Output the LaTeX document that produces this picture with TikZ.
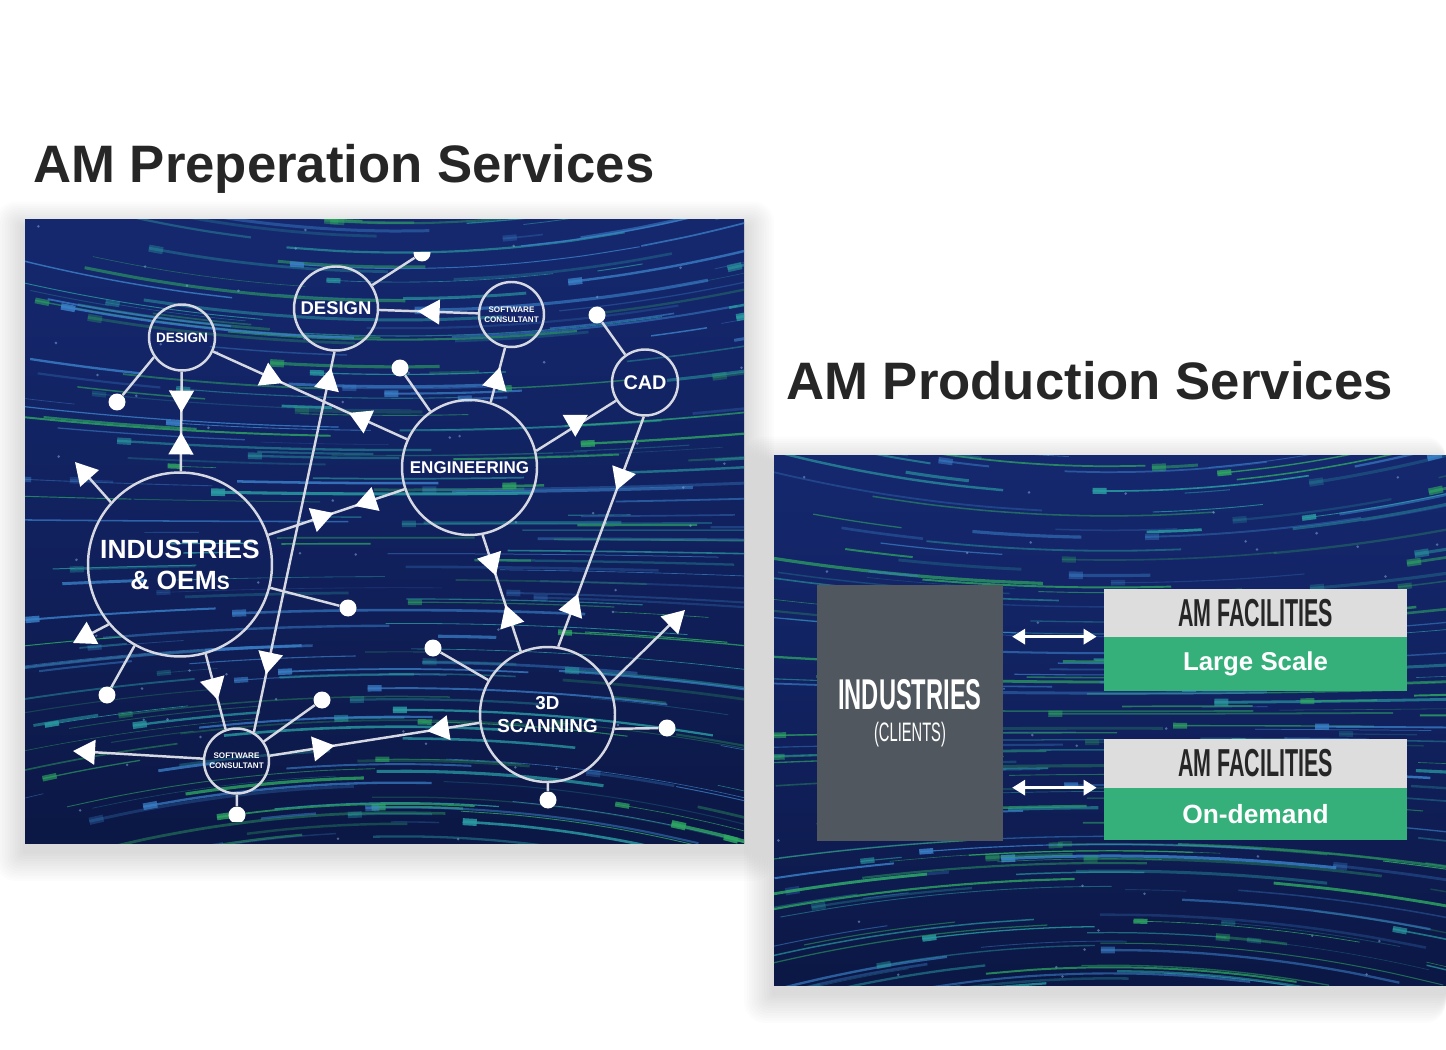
\documentclass[tikz,border=0pt]{standalone}
\usepackage{fontspec}
\setmainfont{Liberation Sans}
\newfontfamily\condfont[FakeStretch=0.55]{Liberation Sans}
\usetikzlibrary{arrows.meta, decorations.markings}
\definecolor{ink}{HTML}{262626}
\definecolor{navytop}{HTML}{15286E}
\definecolor{navymid}{HTML}{11215E}
\definecolor{navydeep}{HTML}{0B1744}
\definecolor{ring}{HTML}{D6D9E2}
\definecolor{st0}{HTML}{3A80C8}
\definecolor{st1}{HTML}{2A9CA2}
\definecolor{st2}{HTML}{2EA862}
\definecolor{slate}{HTML}{50575F}
\definecolor{mist}{HTML}{DDDDDD}
\definecolor{mint}{HTML}{35B07B}
\tikzset{tri/.tip={Triangle[width=14pt,length=12.5pt,color=white,fill=white]}}

\begin{document}
\begin{tikzpicture}[
  x=0.02cm, y=-0.02cm,
  hub/.style={circle, draw=ring, line width=1.4pt, text=white,
              align=center, inner sep=0pt},
  enddot/.style={circle, fill=white, minimum size=0.34cm, inner sep=0pt},
  conn/.style={draw=ring, line width=1.4pt},
  arr/.style={conn, -{tri}},
  mfwd/.style={postaction={decorate, decoration={markings,
               mark=at position #1 with {\arrow{tri}}}}},
  mrev/.style={postaction={decorate, decoration={markings,
               mark=at position #1 with {\arrowreversed{tri}}}}},
  dbl/.style={{Triangle[width=8.5pt,length=7.4pt]}-{Triangle[width=8.5pt,length=7.4pt]},
              white, line width=2pt, shorten <=5pt, shorten >=4pt},
  facbox/.style={minimum width=6.06cm, inner sep=0pt},
  title/.style={anchor=base west, inner sep=0pt, text=ink,
                font=\bfseries\fontsize{30}{36}\selectfont}
]
\useasboundingbox (0,0) rectangle (1446,1050);
\fill[white] (0,0) rectangle (1446,1050);

% soft shadows
\foreach \s in {1,...,12}{
  \fill[black, opacity=0.01, rounded corners=\s pt]
    ({25-2.5*\s},{228-2.2*\s}) rectangle ({744+2.5*\s},{851+2.5*\s});
  \fill[black, opacity=0.01, rounded corners=\s pt]
    ({774-2.5*\s},{463-2.2*\s}) rectangle (1446,{993+2.5*\s});
}

% panels
\shade[top color=navytop, bottom color=navydeep, middle color=navymid]
  (25,220) rectangle (744,843);
\shade[top color=navytop, bottom color=navydeep, middle color=navymid]
  (774,455) rectangle (1446,985);

\pgfmathsetseed{4242}
\begin{scope}
  \clip (25,220) rectangle (744,843);
  \foreach \i in {1,...,260}{
    \pgfmathsetmacro\sy{200+660*rnd}
    \pgfmathsetmacro\sxa{-60+800*rnd}
    \pgfmathsetmacro\sxb{\sxa+40+320*rnd}
    \pgfmathsetmacro\sxh{\sxa+14}
    \pgfmathsetmacro\bend{4.5*(\sy-530)/310}
    \pgfmathtruncatemacro\hue{2.999*rnd}
    \pgfmathtruncatemacro\hd{2.999*rnd}
    \pgfmathsetmacro\op{0.25+0.6*rnd}
    \pgfmathsetmacro\lw{0.3+1.5*rnd}
    \draw[color=st\hue, opacity=\op, line width=\lw pt]
      plot[domain=\sxa:\sxb, samples=7, smooth] (\x,{\sy+\bend*((\x-400)/100)^2});
    \ifnum\hd=1
      \draw[color=st\hue, opacity=\op, line width=\lw pt+2.5pt]
        plot[domain=\sxa:\sxh, samples=2] (\x,{\sy+\bend*((\x-400)/100)^2});
    \fi
  }
  \foreach \i in {1,...,60}{
    \fill[st0!60!white, opacity=0.5] ({25+720*rnd},{220+620*rnd}) circle (0.8pt);
  }
\end{scope}

\begin{scope}
  \clip (774,455) rectangle (1446,985);
  \foreach \i in {1,...,250}{
    \pgfmathsetmacro\sy{430+580*rnd}
    \pgfmathsetmacro\sxa{700+760*rnd}
    \pgfmathsetmacro\sxb{\sxa+40+320*rnd}
    \pgfmathsetmacro\sxh{\sxa+14}
    \pgfmathsetmacro\bend{4.5*(\sy-720)/265}
    \pgfmathtruncatemacro\hue{2.999*rnd}
    \pgfmathtruncatemacro\hd{2.999*rnd}
    \pgfmathsetmacro\op{0.25+0.6*rnd}
    \pgfmathsetmacro\lw{0.3+1.5*rnd}
    \draw[color=st\hue, opacity=\op, line width=\lw pt]
      plot[domain=\sxa:\sxb, samples=7, smooth] (\x,{\sy+\bend*((\x-1110)/100)^2});
    \ifnum\hd=1
      \draw[color=st\hue, opacity=\op, line width=\lw pt+2.5pt]
        plot[domain=\sxa:\sxh, samples=2] (\x,{\sy+\bend*((\x-1110)/100)^2});
    \fi
  }
  \foreach \i in {1,...,50}{
    \fill[st0!60!white, opacity=0.5] ({774+670*rnd},{455+525*rnd}) circle (0.8pt);
  }
\end{scope}

% titles
\node[title] (ttlprep) at (33,183) {AM Preperation Services};
\node[title] (ttlprod) at (786,400) {AM Production Services};

% preparation services map
\node[hub, minimum size=1.32cm, font=\bfseries\fontsize{7.7}{9}\selectfont] (dsm) at (182,337.5) {DESIGN};
\node[hub, minimum size=1.68cm, font=\bfseries\fontsize{10.5}{12}\selectfont] (dbg) at (336,308.5) {DESIGN};
\node[hub, minimum size=1.30cm, font=\bfseries\fontsize{4.6}{5.7}\selectfont] (sct) at (511.5,314.5) {SOFTWARE\\CONSULTANT};
\node[hub, minimum size=1.32cm, font=\bfseries\fontsize{11.3}{13}\selectfont] (cad) at (645,382.5) {CAD};
\node[hub, minimum size=2.70cm, font=\bfseries\fontsize{9.7}{12}\selectfont] (eng) at (469.5,467.5) {ENGINEERING};
\node[hub, minimum size=3.68cm, font=\bfseries\fontsize{15}{17.6}\selectfont] (ind) at (180,564.5)
  {INDUSTRIES\\\& OEM{\fontsize{11}{11}\selectfont S}};
\node[hub, minimum size=1.30cm, font=\bfseries\fontsize{4.6}{5.7}\selectfont] (scb) at (236.5,761) {SOFTWARE\\CONSULTANT};
\node[hub, minimum size=2.70cm, font=\bfseries\fontsize{10.7}{13}\selectfont] (scn) at (547.5,714.5) {3D\\SCANNING};

\node[enddot] (d1) at (117,402) {};
\node[enddot] (d3) at (597,315) {};
\node[enddot] (d4) at (400,368) {};
\node[enddot] (d5) at (348,608) {};
\node[enddot] (d6) at (107,695) {};
\node[enddot] (d7) at (322,700) {};
\node[enddot] (d9) at (433,648) {};
\node[enddot] (d10) at (667,728) {};
\node[enddot] (d11) at (548,800) {};
\begin{scope}
  \clip (400,253) rectangle (445,275);
  \node[enddot] (dtop) at (422,253) {};
\end{scope}
\begin{scope}
  \clip (215,800) rectangle (260,821.5);
  \node[enddot] (d8) at (237,815) {};
\end{scope}

\coordinate (tipul) at (75,462);
\coordinate (tipdl) at (73,643);
\coordinate (tipl) at (73,751);
\coordinate (tipur) at (685,610);

\draw[conn, mfwd=0.41, mrev=0.61] (dsm) -- (ind);
\draw[conn, mfwd=0.36, mrev=0.70] (dsm) -- (eng);
\draw[conn, mfwd=0.957, mrev=0.152] (scb.59) -- (dbg.268);
\draw[conn, mfwd=0.48, mrev=0.635] (ind) -- (eng);
\draw[conn, mfwd=0.61] (sct) -- (dbg);
\draw[conn, mfwd=0.64] (eng.72) -- (sct.259);
\draw[conn, postaction={decorate, decoration={markings, mark=at position 0.49 with
  {\pgftransformrotate{-122}\pgftransformxshift{6pt}\arrow{tri}}}}] (eng.14) -- (cad);
\draw[conn, mfwd=0.32, mrev=0.77] (cad.268) -- (scn.81);
\draw[conn, mfwd=0.35, mrev=0.60] (eng.281) -- (scn.113);
\draw[conn, mfwd=0.31, mrev=0.75] (scb.9) -- (scn.187);
\draw[conn, mfwd=0.61] (ind.286) -- (scb.109);

\draw[arr] (scn.26) -- (tipur);
\draw[arr] (scb.176) -- (tipl);
\draw[arr] (ind.138) -- (tipul);
\draw[arr] (ind.220) -- (tipdl);

\draw[conn] (dsm.215) -- (d1);
\draw[conn] (dbg) -- (dtop);
\draw[conn] (cad) -- (d3);
\draw[conn] (eng) -- (d4);
\draw[conn] (ind) -- (d5);
\draw[conn] (ind) -- (d6);
\draw[conn] (scb) -- (d7);
\draw[conn] (scb) -- (d8);
\draw[conn] (scn) -- (d9);
\draw[conn] (scn.-12) -- (d10);
\draw[conn] (scn) -- (d11);

% production services
\node[fill=slate, minimum width=3.72cm, minimum height=5.12cm, inner sep=0pt,
      align=center, text=white, font=\condfont\fontsize{15.2}{14.2}\selectfont] (cli) at (910,713)
  {{\bfseries\fontsize{24.5}{14.2}\selectfont INDUSTRIES}\\[4pt](CLIENTS)};
\node[facbox, fill=mist, minimum height=0.96cm, text=ink,
      font=\condfont\bfseries\fontsize{22.2}{24}\selectfont] (fac1h) at (1255.5,613) {AM FACILITIES};
\node[facbox, fill=mint, minimum height=1.08cm, text=white,
      font=\bfseries\fontsize{14.7}{16}\selectfont] (fac1g) at (1255.5,664) {Large Scale};
\node[facbox, fill=mist, minimum height=0.98cm, text=ink,
      font=\condfont\bfseries\fontsize{22.2}{24}\selectfont] (fac2h) at (1255.5,763.5) {AM FACILITIES};
\node[facbox, fill=mint, minimum height=1.04cm, text=white,
      font=\bfseries\fontsize{15}{16}\selectfont] (fac2g) at (1255.5,814) {On-demand};

\draw[dbl] (cli.east |- fac1g.north) -- (fac1g.north west);
\draw[dbl] (cli.east |- fac2g.north) -- (fac2g.north west);
\end{tikzpicture}
\end{document}
